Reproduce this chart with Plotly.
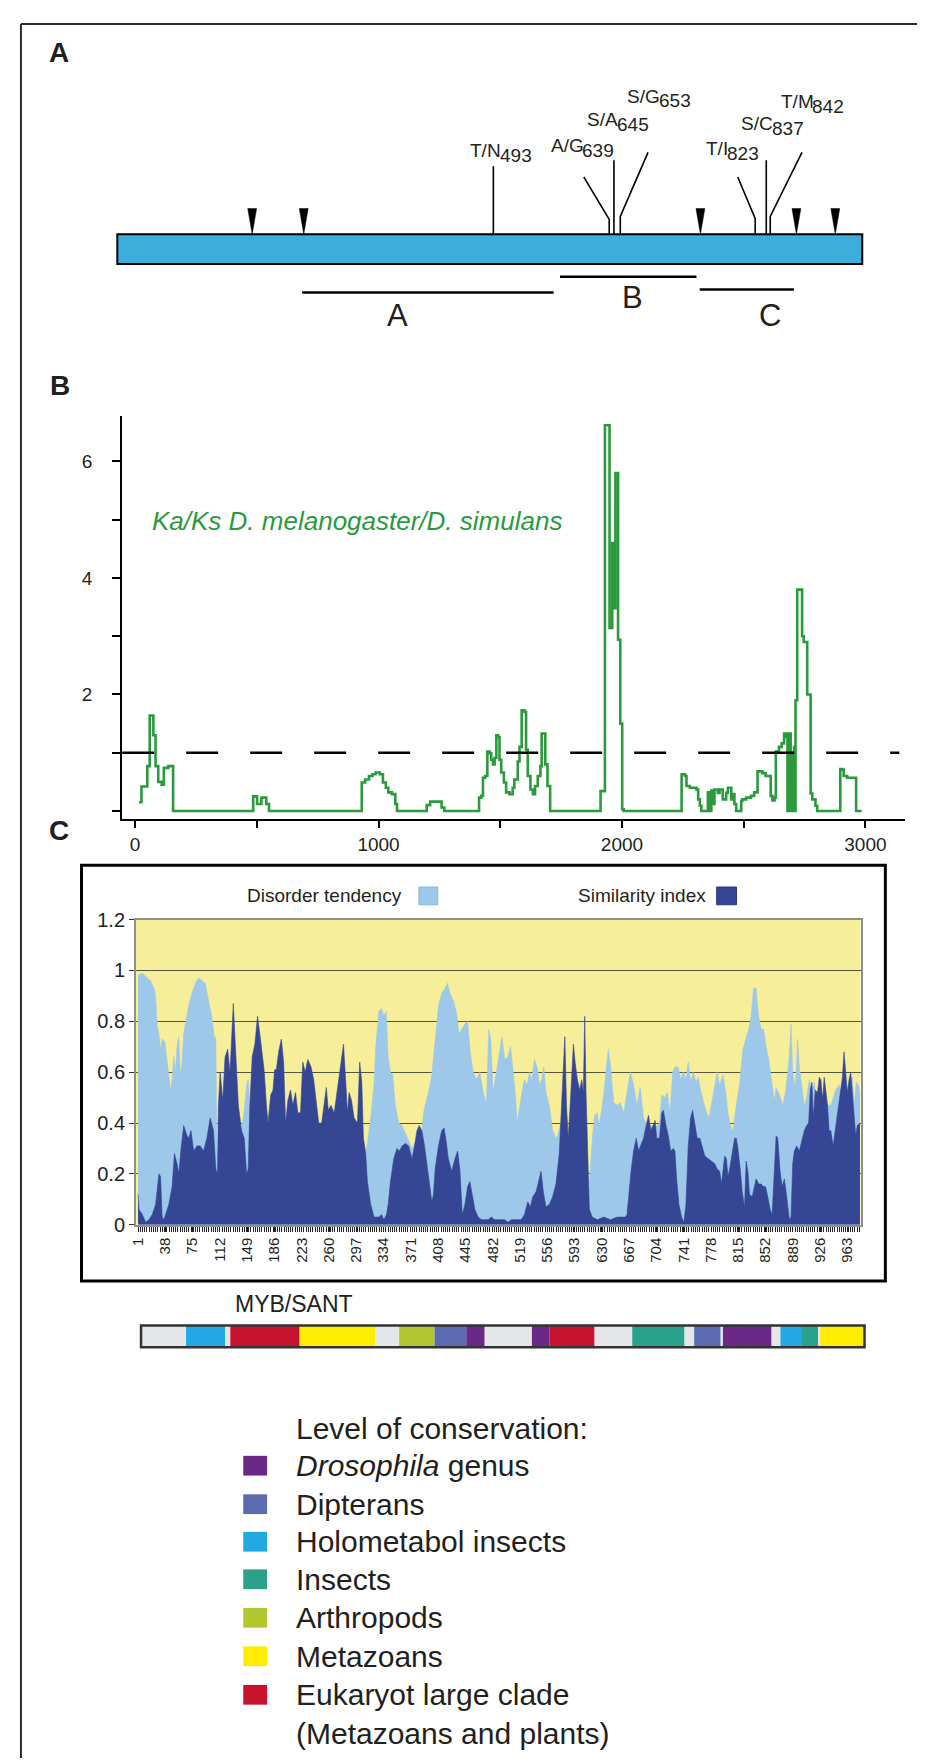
import plotly.graph_objects as go

W, H = 925, 1761
FONT = "Liberation Sans, Arial, Helvetica, sans-serif"
INK = "#231F20"

# ---------------- Panel A: protein schematic (residue positions) ----------------
PROTEIN_START, PROTEIN_END = 19, 958
INTRON_POS = [189, 254, 754, 875, 924]
MUT_POS = [493, 639, 645, 653, 823, 837, 842]
MUT_AA = ["T/N", "A/G", "S/A", "S/G", "T/I", "S/C", "T/M"]
REGION_NAME = ["A", "B", "C"]
REGION_START = [252, 577, 753]
REGION_END = [569, 749, 872]

# ---------------- Panel B: Ka/Ks sliding window ----------------
KAKS_POS = [16, 26, 50, 60, 75, 84, 95, 109, 118, 136, 156,
            485, 501, 519, 539, 550,
            931, 945, 961, 975, 988, 1005, 1018, 1030, 1040, 1055, 1069, 1076,
            1198, 1212, 1259, 1270,
            1413, 1422, 1429, 1438, 1447, 1456, 1463, 1470, 1477, 1484, 1491, 1497,
            1504, 1515, 1524, 1538, 1551, 1558, 1572, 1579, 1588, 1600, 1606, 1613,
            1624, 1634, 1643, 1654, 1665, 1670, 1685, 1694, 1705,
            1912, 1930, 1949, 1960, 1970, 1973, 1984, 1993, 2001, 2007,
            2245, 2259, 2265, 2279, 2293, 2306, 2313, 2320, 2326, 2353, 2360, 2367,
            2374, 2380, 2394, 2401, 2414, 2428, 2435, 2449, 2455, 2462, 2469, 2480,
            2490, 2494, 2510, 2530, 2543, 2557, 2577, 2590, 2601, 2611, 2618, 2627,
            2632, 2645, 2656, 2666, 2676, 2680, 2686, 2693, 2698, 2703, 2707, 2711,
            2713, 2720, 2740, 2747, 2761, 2775, 2782, 2795, 2802,
            2897, 2904, 2911, 2925, 2962, 2985]
KAKS_VAL = [0.15, 0.42, 0.77, 1.64, 1.30, 0.77, 0.50, 0.45, 0.74, 0.77, 0.0,
            0.25, 0.12, 0.23, 0.12, 0.0,
            0.49, 0.54, 0.60, 0.63, 0.66, 0.63, 0.49, 0.40, 0.32, 0.29, 0.12, 0.0,
            0.10, 0.16, 0.06, 0.0,
            0.23, 0.26, 0.57, 0.60, 1.02, 0.99, 0.88, 0.80, 0.91, 1.30, 1.27, 0.88,
            0.66, 0.49, 0.32, 0.29, 0.40, 0.54, 0.85, 1.10, 1.73, 1.70, 1.05, 0.60,
            0.37, 0.29, 0.43, 0.60, 0.77, 1.33, 0.80, 0.43, 0.0,
            0.34, 6.62, 3.14, 4.60, 3.48, 5.80, 2.94, 1.50, 0.03, 0.0,
            0.63, 0.60, 0.43, 0.40, 0.40, 0.37, 0.20, 0.09, 0.0, 0.32, 0.0, 0.35,
            0.12, 0.37, 0.31, 0.37, 0.20, 0.31, 0.40, 0.20, 0.29, 0.12, 0.0, 0.0,
            0.17, 0.20, 0.23, 0.26, 0.32, 0.68, 0.65, 0.60, 0.60, 0.26, 0.18, 0.23,
            1.02, 1.10, 1.16, 1.33, 1.27, 0.0, 1.33, 0.0, 1.0, 0.0, 1.1, 0.0,
            1.9, 3.80, 3.00, 2.90, 2.0, 0.30, 0.20, 0.09, 0.0,
            0.72, 0.71, 0.60, 0.57, 0.0, 0.0]
KAKS_THRESHOLD = 1
B_XTICKS = [0, 1000, 2000, 3000]
B_YTICKS = [2, 4, 6]

# ---------------- Panel C: disorder tendency & similarity index ----------------
DIS_POS = [1, 6.8, 13.6, 18, 22.5, 24.8, 27, 29.3, 31.5, 33.7, 37.3, 40.5, 45, 47.2, 49.5,
           51.7, 53.9, 56.2, 58.4, 60.7, 62.9, 65.2, 69.6, 74.1, 78.6, 83.1, 87.6, 92.1,
           96.6, 101, 104.6, 106.4, 107.5, 108.5, 110, 125, 138, 141.4, 145, 148.2, 150.4,
           152.6, 155.8, 170, 200, 230, 260, 290, 304.4, 306.6, 309.7, 312, 316.5, 321,
           323.1, 327.6, 331.2, 334.3, 337.5, 340.2, 343.3, 346.5, 349.8, 354.5, 359,
           363.5, 368, 372.5, 376, 379.2, 382.3, 385.9, 388.2, 390.4, 394.9, 399.4, 403.9,
           408.4, 412.8, 417.4, 420.5, 424.1, 428.6, 433.1, 436.2, 439.8, 444.3, 447.9,
           451, 455.5, 460, 464.5, 469, 473.5, 476.6, 479.3, 482.4, 486.9, 491.4, 494.5,
           498.1, 502.6, 506.2, 509.3, 512.5, 515.2, 518.3, 521.5, 525, 528.6, 531.8,
           534.9, 538.5, 542.1, 545.2, 548.4, 551.1, 554.2, 558.7, 563.2, 567.7, 569.9,
           574.4, 577, 590, 605, 611.2, 612.5, 614.8, 617, 620.2, 623.8, 626, 629.2,
           632.7, 636.3, 638.6, 641.6, 646.1, 650.6, 655.1, 659.6, 664.1, 668.6, 673,
           677.5, 682, 686.5, 690, 702, 708, 711.2, 715.6, 718.8, 722.4, 726, 729.1,
           733.6, 736.8, 740.4, 744, 747.1, 750.3, 753.9, 757.5, 760.6, 763.8, 767.4,
           771.9, 775.4, 778.6, 783.1, 786.2, 789.8, 794.3, 797.9, 801, 804.2, 807.8,
           812.3, 816.7, 821.2, 825.7, 829.3, 832.4, 835.6, 839.2, 842.4, 846, 849.2,
           852.8, 856.4, 859.5, 864, 866.3, 870.8, 875.3, 878.9, 882, 884.3, 886.5,
           888.8, 892.4, 895.5, 897.8, 901.4, 904.5, 907.7, 911.3, 914.9, 918, 922.5,
           927, 931.5, 936, 940.5, 943.6, 947.2, 951.7, 956.2, 960.7, 965.2, 969.7,
           971.9, 975.1, 977.8, 980]
DIS_VAL = [0.98, 0.99, 0.97, 0.96, 0.93, 0.90, 0.78, 0.75, 0.69, 0.73, 0.72, 0.64, 0.53, 0.57, 0.66,
           0.60, 0.70, 0.74, 0.59, 0.64, 0.75, 0.79, 0.86, 0.91, 0.95, 0.97, 0.96, 0.95,
           0.88, 0.82, 0.73, 0.74, 0.45, 0.20, 0.20, 0.25, 0.30, 0.37, 0.45, 0.55, 0.57,
           0.47, 0.30, 0.30, 0.30, 0.30, 0.30, 0.30, 0.30, 0.34, 0.28, 0.32, 0.42, 0.55,
           0.69, 0.84, 0.85, 0.82, 0.84, 0.66, 0.60, 0.59, 0.47, 0.40, 0.39,
           0.36, 0.33, 0.30, 0.32, 0.35, 0.37, 0.37, 0.44, 0.47, 0.52, 0.59, 0.73,
           0.86, 0.91, 0.93, 0.95, 0.91, 0.88, 0.83, 0.75, 0.77, 0.79, 0.80,
           0.69, 0.60, 0.57, 0.60, 0.52, 0.48, 0.77, 0.73, 0.52, 0.60, 0.68, 0.74,
           0.65, 0.66, 0.70, 0.62, 0.52, 0.40, 0.47, 0.52, 0.57, 0.55, 0.60,
           0.57, 0.65, 0.62, 0.55, 0.57, 0.62, 0.52, 0.47, 0.37, 0.34, 0.35,
           0.40, 0.35, 0.30, 0.30, 0.18, 0.13, 0.24, 0.34, 0.43, 0.44, 0.39, 0.44,
           0.52, 0.62, 0.69, 0.63, 0.48, 0.47, 0.48, 0.44, 0.52, 0.60, 0.55,
           0.47, 0.54, 0.42, 0.40, 0.38, 0.40, 0.51, 0.50, 0.52, 0.44, 0.60, 0.62,
           0.62, 0.57, 0.60, 0.57, 0.64, 0.56, 0.60, 0.56, 0.58, 0.53, 0.49,
           0.44, 0.42, 0.47, 0.55, 0.60, 0.55, 0.59, 0.52, 0.44, 0.39, 0.37,
           0.47, 0.55, 0.69, 0.73, 0.77, 0.82, 0.93, 0.93, 0.82, 0.77, 0.77,
           0.70, 0.65, 0.58, 0.49, 0.54, 0.51, 0.47, 0.52, 0.60, 0.67, 0.79,
           0.60, 0.54, 0.73, 0.62, 0.53, 0.47, 0.50, 0.57, 0.53, 0.56, 0.47,
           0.50, 0.52, 0.47, 0.47, 0.50, 0.53, 0.55, 0.50, 0.50, 0.55, 0.58,
           0.47, 0.56, 0.55, 0.52]

SIM_POS = [1, 2.3, 6.8, 11.3, 15.8, 20.3, 24.8, 29.3, 31.5, 33.7, 36, 38.2, 42.7, 47.2, 50.3,
           53.9, 56.2, 59.3, 62.9, 65.2, 67.4, 69.6, 72.8, 76.4, 80.9, 85.3, 89.8, 94.3,
           98.8, 103.3, 106.4, 108.7, 110, 112.3, 115.8, 119, 122.6, 125.7, 128, 130.2,
           132.5, 134.7, 137, 141.4, 145, 148.2, 150.4, 152.6, 155.8, 159.4, 163, 166.1,
           168.3, 171.9, 175.1, 177.3, 180.9, 184, 186.3, 188.5, 191.7, 195.3, 198.4,
           201.1, 204.2, 207.8, 210.9, 214.5, 217.7, 221.3, 224.4, 227.6, 231.2, 235.6,
           239.2, 242.4, 246, 250, 253.6, 256.3, 259, 262.6, 267, 270.6, 273.8, 276.9,
           279.6, 282.7, 285, 287.2, 290.4, 294, 298.5, 301.6, 304.4, 306.6, 309.7, 312,
           316.5, 321, 323.1, 327.6, 331.2, 334.3, 338, 340.2, 343.3, 347.8, 352, 355.4,
           359, 363.5, 368, 372.5, 376, 379.2, 382.3, 385.9, 389.5, 392.7, 394.9, 399.4,
           401.6, 403.9, 408.4, 412.8, 416, 418.3, 421.8, 426.3, 430.8, 434.4, 437.6,
           440.7, 444.3, 447.9, 451, 454.2, 457.8, 462.2, 466.7, 471.2, 475.7, 480.2,
           484.6, 489.1, 493.6, 498.1, 502.6, 507.1, 511.6, 516.1, 520.6, 525, 529.5,
           533.1, 536.3, 540.8, 544.3, 547.5, 550.6, 554.2, 558.7, 563.2, 567.7, 572.2,
           575.3, 578, 579.8, 582, 584.3, 587, 589.2, 591.4, 593.7, 596.8, 600, 602.6,
           604.9, 606.7, 608.5, 611.2, 613, 617, 623.8, 632.7, 641.7, 650.7, 661.9,
           664.1, 666.3, 669.5, 673, 676.6, 679.8, 682.9, 686.5, 690.1, 693.2, 696.4,
           699, 702.2, 704.4, 708, 711.2, 713.4, 717, 720.1, 723.3, 726.9, 729.1, 731.4,
           734.5, 738.1, 741.3, 744, 747.1, 750.3, 753, 756.1, 759.3, 762.9, 766.5,
           769.6, 774.1, 778.6, 783.1, 786.2, 789.8, 792.1, 794.3, 796.6, 798.8, 801,
           803.3, 806.9, 810, 812.3, 814.5, 817.6, 820.3, 823.5, 825.7, 828, 830.2,
           833.8, 837, 839.2, 842.8, 846, 849.2, 851.9, 855, 858.2, 860.9, 864, 866.3,
           868.5, 871.7, 874.4, 877.5, 879.8, 882, 884.3, 886.5, 888.8, 891, 894.2,
           897.8, 901.4, 904.5, 907.7, 910.4, 912.6, 914.9, 916.7, 919.4, 922.5, 924.8,
           927, 929.3, 931.5, 933.7, 936, 938.2, 940.5, 943.6, 947.2, 950.8, 953.9,
           956.2, 958.4, 960.7, 962.9, 965.2, 967.4, 969.7, 971.9, 974.2, 976.4, 980]
SIM_VAL = [0.12, 0.06, 0.04, 0.01, 0.02, 0.04, 0.08, 0.20, 0.19, 0.03, 0.02, 0.04, 0.08, 0.15, 0.28,
           0.24, 0.20, 0.30, 0.39, 0.37, 0.35, 0.34, 0.37, 0.29, 0.31, 0.31, 0.29, 0.34,
           0.42, 0.37, 0.22, 0.20, 0.47, 0.60, 0.49, 0.66, 0.69, 0.60, 0.73, 0.87,
           0.73, 0.57, 0.47, 0.37, 0.34, 0.20, 0.22, 0.47, 0.66, 0.71, 0.82, 0.75,
           0.70, 0.61, 0.47, 0.40, 0.51, 0.53, 0.61, 0.61, 0.68, 0.73, 0.64,
           0.40, 0.49, 0.53, 0.47, 0.52, 0.44, 0.44, 0.64, 0.60, 0.65, 0.62,
           0.57, 0.49, 0.40, 0.40, 0.48, 0.54, 0.45, 0.47, 0.44, 0.52, 0.60, 0.66,
           0.71, 0.56, 0.44, 0.52, 0.49, 0.42, 0.40, 0.64, 0.56, 0.34, 0.28, 0.17,
           0.08, 0.03, 0.03, 0.03, 0.04, 0.02, 0.04, 0.08, 0.17, 0.26, 0.30, 0.29,
           0.31, 0.32, 0.31, 0.26, 0.31, 0.37, 0.39, 0.37, 0.31, 0.24, 0.17, 0.09,
           0.12, 0.22, 0.31, 0.37, 0.38, 0.34, 0.26, 0.21, 0.26, 0.29, 0.21,
           0.04, 0.08, 0.15, 0.17, 0.12, 0.06, 0.03, 0.02, 0.02, 0.02, 0.03,
           0.02, 0.02, 0.02, 0.02, 0.01, 0.02, 0.02, 0.02, 0.02, 0.04, 0.09,
           0.07, 0.11, 0.13, 0.17, 0.21, 0.13, 0.07, 0.08, 0.11, 0.16, 0.28,
           0.47, 0.65, 0.74, 0.47, 0.34, 0.47, 0.60, 0.71, 0.64, 0.57, 0.53, 0.57,
           0.52, 0.82, 0.52, 0.21, 0.06, 0.03, 0.02, 0.03, 0.02, 0.03, 0.03,
           0.04, 0.11, 0.21, 0.29, 0.34, 0.29, 0.31, 0.34, 0.39, 0.43, 0.37,
           0.39, 0.41, 0.34, 0.34, 0.44, 0.45, 0.39, 0.35, 0.29, 0.30, 0.29, 0.18,
           0.08, 0.03, 0.01, 0.08, 0.31, 0.42, 0.45, 0.39, 0.34, 0.34, 0.30,
           0.27, 0.26, 0.25, 0.24, 0.22, 0.21, 0.16, 0.21, 0.27, 0.26, 0.19,
           0.22, 0.29, 0.34, 0.34, 0.30, 0.22, 0.13, 0.07, 0.25, 0.21, 0.12,
           0.11, 0.16, 0.18, 0.16, 0.16, 0.15, 0.15, 0.11, 0.06, 0.04, 0.21, 0.35,
           0.34, 0.21, 0.15, 0.18, 0.13, 0.07, 0.02, 0.03, 0.24, 0.29, 0.31,
           0.29, 0.34, 0.37, 0.39, 0.40, 0.53, 0.56, 0.42, 0.53, 0.52, 0.58,
           0.57, 0.49, 0.58, 0.53, 0.47, 0.37, 0.37, 0.31, 0.39, 0.47, 0.52,
           0.58, 0.68, 0.59, 0.52, 0.57, 0.60, 0.52, 0.42, 0.35, 0.39, 0.40]
C_XTICKS = [1, 38, 75, 112, 149, 186, 223, 260, 297, 334, 371, 408, 445, 482, 519,
            556, 593, 630, 667, 704, 741, 778, 815, 852, 889, 926, 963]
C_YTICKS = [0, 0.2, 0.4, 0.6, 0.8, 1.0, 1.2]
C_YTICKTEXT = ["0", "0.2", "0.4", "0.6", "0.8", "1", "1.2"]

# ---------------- Conservation bar ----------------
CONS_CLASSES = ["Drosophila genus", "Dipterans", "Holometabol insects", "Insects",
                "Arthropods", "Metazoans", "Eukaryot large clade (Metazoans and plants)"]
CONS_COLORS = {"none": "#E5E6E8", "Drosophila genus": "#6A2887", "Dipterans": "#5A6BB0",
               "Holometabol insects": "#22A8E2", "Insects": "#2AA18B",
               "Arthropods": "#B2C62F", "Metazoans": "#FFEC00",
               "Eukaryot large clade (Metazoans and plants)": "#C8132E"}
SEG_START = [0, 61, 114, 121, 215, 318, 350, 398, 441, 466, 530, 554, 615, 666,
             737, 750, 786, 789, 855, 867, 895, 918, 921]
SEG_END = [61, 114, 121, 215, 318, 350, 398, 441, 466, 530, 554, 615, 666, 737,
           750, 786, 789, 855, 867, 895, 918, 921, 981]
SEG_CLASS = ["none", "Holometabol insects", "none",
             "Eukaryot large clade (Metazoans and plants)", "Metazoans", "none",
             "Arthropods", "Dipterans", "Drosophila genus", "none", "Drosophila genus",
             "Eukaryot large clade (Metazoans and plants)", "none", "Insects", "none",
             "Dipterans", "none", "Drosophila genus", "none", "Holometabol insects",
             "Insects", "none", "Metazoans"]
LEGEND_LABELS = ["<i>Drosophila</i> genus", "Dipterans", "Holometabol insects", "Insects",
                 "Arthropods", "Metazoans", "Eukaryot large clade"]

# ======================= layout helpers (pixels -> paper) =======================
def fx(p):
    return p / W


def fy(p):
    return 1 - p / H


# Panel A scale: px = A_PX0 + A_PXR * residue ; vertical unit = px above bar top (y=218)
A_PX0, A_PXR, A_TOP = 87.9, 0.7994, 218
MUT_STUB = [None, 15, None, 18, 16, None, 18]
MUT_LEAN = [0, -32, 0, 35, -22, 0, 40]
MUT_TOP = [69, 58, 75, 83, 58, 75, 83]
MUT_LABEL_DX = [11, -31, 6, 51, -33, 10, 56]
MUT_NUM_DX = -4
MUT_LABEL_Y = [85, 90, 116, 140, 87, 112, 134]
MUT_SUB_DROP = 5
REGION_Y = [-59, -43, -56]
REGION_LABEL_X = [372, 668, 842]
REGION_LABEL_Y = [-82, -64, -82]
TRI_HALF, TRI_H = 5.6, 26

fig = go.Figure()

# ---- Panel A traces
tx, ty = [], []
for p in INTRON_POS:
    tx += [p - TRI_HALF, p + TRI_HALF, p, p - TRI_HALF, None]
    ty += [TRI_H, TRI_H, 0, TRI_H, None]
fig.add_trace(go.Scatter(x=tx, y=ty, mode="lines", fill="toself", fillcolor="black",
                         line=dict(color="black", width=0.5), xaxis="x", yaxis="y",
                         hoverinfo="skip", showlegend=False))
mx, my = [], []
for p, stub, lean, top in zip(MUT_POS, MUT_STUB, MUT_LEAN, MUT_TOP):
    if stub is None:
        mx += [p, p, None]
        my += [0, top, None]
    else:
        mx += [p, p, p + lean, None]
        my += [0, stub, top, None]
fig.add_trace(go.Scatter(x=mx, y=my, mode="lines", line=dict(color="black", width=1.6),
                         xaxis="x", yaxis="y", hoverinfo="skip", showlegend=False))
rx, ry = [], []
for s, e, yy in zip(REGION_START, REGION_END, REGION_Y):
    rx += [s, e, None]
    ry += [yy, yy, None]
fig.add_trace(go.Scatter(x=rx, y=ry, mode="lines", line=dict(color="black", width=2.5),
                         xaxis="x", yaxis="y", hoverinfo="skip", showlegend=False))

# ---- Panel B trace
fig.add_trace(go.Scatter(x=KAKS_POS, y=KAKS_VAL, mode="lines", line_shape="hv",
                         line=dict(color="#2A9A3C", width=2.6), xaxis="x2", yaxis="y2",
                         showlegend=False))

# ---- Panel C traces
fig.add_trace(go.Scatter(x=DIS_POS, y=DIS_VAL, mode="lines", fill="tozeroy",
                         fillcolor="#9DC8EA", line=dict(color="#9DC8EA", width=0.6),
                         xaxis="x3", yaxis="y3", name="Disorder tendency", showlegend=False))
fig.add_trace(go.Scatter(x=SIM_POS, y=SIM_VAL, mode="lines", fill="tozeroy",
                         fillcolor="#344694", line=dict(color="#344694", width=0.6),
                         xaxis="x3", yaxis="y3", name="Similarity index", showlegend=False))

# ---- Conservation bar
fig.add_trace(go.Bar(orientation="h", y=[0] * len(SEG_START),
                     x=[e - s for s, e in zip(SEG_START, SEG_END)], base=SEG_START,
                     width=1, marker=dict(color=[CONS_COLORS[c] for c in SEG_CLASS],
                                          line=dict(width=0)),
                     xaxis="x4", yaxis="y4", showlegend=False, hoverinfo="skip"))

shapes = []
# figure frame (left and top)
shapes.append(dict(type="line", xref="paper", yref="paper", x0=fx(6), x1=fx(6), y0=0, y1=fy(5),
                   line=dict(color="#2b2b2b", width=2)))
shapes.append(dict(type="line", xref="paper", yref="paper", x0=fx(6), x1=1, y0=fy(5), y1=fy(5),
                   line=dict(color="#2b2b2b", width=2)))
# protein bar
shapes.append(dict(type="rect", xref="x", yref="y", x0=PROTEIN_START, x1=PROTEIN_END,
                   y0=-30, y1=0, fillcolor="#3DAEDB", line=dict(color="black", width=2),
                   layer="below"))
# Ka/Ks = 1 threshold
shapes.append(dict(type="line", xref="x2 domain", yref="y2", x0=0, x1=0.9924,
                   y0=KAKS_THRESHOLD, y1=KAKS_THRESHOLD,
                   line=dict(color="black", width=2.5, dash="32px,32px")))
# panel C frame & plot background
shapes.append(dict(type="rect", xref="paper", yref="paper", x0=fx(67), x1=fx(877),
                   y0=fy(1278), y1=fy(857), line=dict(color="black", width=3),
                   fillcolor="rgba(0,0,0,0)", layer="below"))
shapes.append(dict(type="rect", xref="x3 domain", yref="y3 domain", x0=0, x1=1, y0=0, y1=1,
                   fillcolor="#F7EE9A", line=dict(width=0), layer="below"))
# panel C legend keys
shapes.append(dict(type="rect", xref="paper", yref="paper", x0=fx(407), x1=fx(426),
                   y0=fy(897), y1=fy(879), fillcolor="#9DC8EA", line=dict(color="#8ab6dc", width=1)))
shapes.append(dict(type="rect", xref="paper", yref="paper", x0=fx(707), x1=fx(727),
                   y0=fy(897), y1=fy(879), fillcolor="#344694", line=dict(color="#2a3a80", width=1)))
# conservation bar outline
shapes.append(dict(type="rect", xref="x4 domain", yref="y4 domain", x0=0, x1=1, y0=0, y1=1,
                   line=dict(color="#333333", width=2.5), fillcolor="rgba(0,0,0,0)"))
# conservation legend keys
LEG_Y = [1465, 1504, 1542, 1580, 1619, 1658, 1697]
for cls, yc in zip(CONS_CLASSES, LEG_Y):
    shapes.append(dict(type="rect", xref="paper", yref="paper", x0=fx(230), x1=fx(254),
                       y0=fy(yc + 10), y1=fy(yc - 10), fillcolor=CONS_COLORS[cls],
                       line=dict(width=0)))

ann = []


def txt(text, x, y, size, xanchor="center", yanchor="middle", color=INK, xref="paper",
        yref="paper", **kw):
    ann.append(dict(text=text, x=x, y=y, xref=xref, yref=yref, xanchor=xanchor,
                    yanchor=yanchor, showarrow=False, borderpad=0,
                    font=dict(family=FONT, size=size, color=color), **kw))


# panel letters
txt("<b>A</b>", fx(44), fy(34), 28)
txt("<b>B</b>", fx(45), fy(371), 28)
txt("<b>C</b>", fx(44), fy(822), 28)

# mutation labels: amino-acid change + lowered position number
for p, aa, dx, ly in zip(MUT_POS, MUT_AA, MUT_LABEL_DX, MUT_LABEL_Y):
    txt(aa, p + dx, ly, 19, xanchor="right", xref="x", yref="y")
    txt(str(p), p + dx + MUT_NUM_DX, ly - MUT_SUB_DROP, 19, xanchor="left",
        xref="x", yref="y")
# region labels
for name, lx, ly in zip(REGION_NAME, REGION_LABEL_X, REGION_LABEL_Y):
    txt(name, lx, ly, 31, xref="x", yref="y")

# panel B label
txt("<i>Ka/Ks D. melanogaster/D. simulans</i>", fx(137), fy(508), 26, xanchor="left",
    color="#2A9A3C")

# panel C legend text
txt("Disorder tendency", fx(391), fy(888), 19, xanchor="right")
txt("Similarity index", fx(697), fy(888), 19, xanchor="right")

# MYB/SANT
txt("MYB/SANT", fx(281), fy(1301), 23)

# conservation legend
txt("Level of conservation:", fx(282), fy(1427), 30, xanchor="left")
for lab, yc in zip(LEGEND_LABELS, LEG_Y):
    txt(lab, fx(282), fy(yc), 30, xanchor="left")
txt("(Metazoans and plants)", fx(282), fy(1736), 30, xanchor="left")

fig.update_layout(
    width=W, height=H, autosize=False,
    margin=dict(l=0, r=0, t=0, b=0, pad=0),
    paper_bgcolor="white", plot_bgcolor="rgba(0,0,0,0)",
    font=dict(family=FONT, color=INK),
    showlegend=False, barmode="overlay",
    shapes=shapes, annotations=ann,
    # Panel A
    xaxis=dict(domain=[0, 1], range=[(0 - A_PX0) / A_PXR, (W - A_PX0) / A_PXR],
               visible=False, anchor="y", fixedrange=True),
    yaxis=dict(domain=[fy(340), 1], range=[A_TOP - 340, A_TOP], visible=False,
               anchor="x", fixedrange=True),
    # Panel B
    xaxis2=dict(domain=[fx(108), fx(897)], range=[-53.1, 3163.6], anchor="y2",
                tickmode="array", tickvals=B_XTICKS,
                ticks="outside", ticklen=7, tickwidth=1.5, tickcolor="black",
                minor=dict(ticks="outside", ticklen=7, tickwidth=1.5, tickcolor="black",
                           tickmode="linear", tick0=0, dtick=500, showgrid=False),
                showline=True, linecolor="black", linewidth=2, showgrid=False,
                zeroline=False, tickfont=dict(size=19, color=INK)),
    yaxis2=dict(domain=[fy(810), fy(402)], range=[-0.1356, 6.78], anchor="x2",
                tickmode="array", tickvals=B_YTICKS,
                ticks="outside", ticklen=8, tickwidth=1.5, tickcolor="black",
                minor=dict(ticks="outside", ticklen=8, tickwidth=1.5, tickcolor="black",
                           tickmode="linear", tick0=0, dtick=1, showgrid=False),
                showline=True, linecolor="black", linewidth=2, showgrid=False,
                zeroline=False, ticklabelstandoff=16, tickfont=dict(size=19, color=INK)),
    # Panel C
    xaxis3=dict(domain=[fx(122), fx(852)], range=[-1.69, 980.8], anchor="y3",
                tickmode="array", tickvals=C_XTICKS, ticktext=[str(v) for v in C_XTICKS],
                tickangle=-90, ticks="outside", ticklen=5, tickcolor="#222",
                minor=dict(ticks="outside", ticklen=5, tickcolor="#222", tickwidth=1,
                           tickmode="linear", tick0=1, dtick=3, showgrid=False),
                showline=True, mirror=True, linecolor="#8f8f8f", linewidth=2,
                showgrid=False, zeroline=False, tickfont=dict(size=15, color=INK)),
    yaxis3=dict(domain=[fy(1221), fy(912)], range=[0, 1.2], anchor="x3",
                tickmode="array", tickvals=C_YTICKS, ticktext=C_YTICKTEXT,
                ticks="outside", ticklen=5, tickcolor="#333",
                showline=True, mirror=True, linecolor="#8f8f8f", linewidth=2,
                showgrid=True, gridcolor="#56563f", gridwidth=1.2, zeroline=False,
                tickfont=dict(size=20, color=INK)),
    # Conservation bar
    xaxis4=dict(domain=[fx(127), fx(856)], range=[0, 981], anchor="y4", visible=False),
    yaxis4=dict(domain=[fy(1345), fy(1323)], range=[-0.5, 0.5], anchor="x4", visible=False),
)

fig.write_html("out.html")
